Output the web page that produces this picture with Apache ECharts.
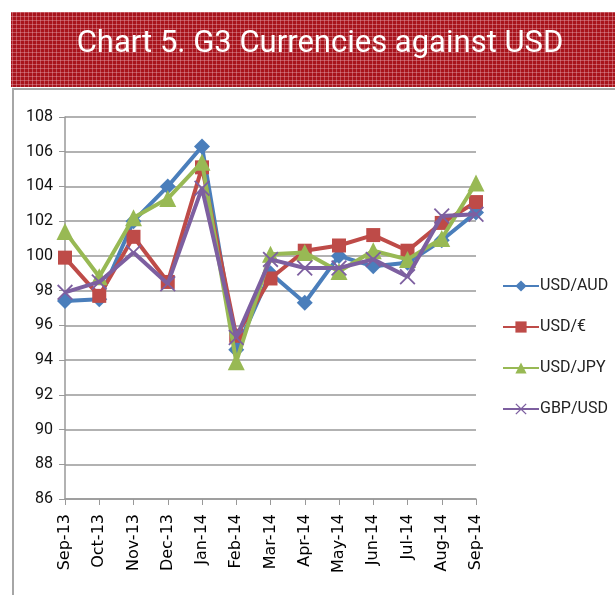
<!DOCTYPE html>
<html><head><meta charset="utf-8">
<script src="https://cdn.jsdelivr.net/npm/echarts@6/dist/echarts.min.js"></script>
<style>html,body{margin:0;padding:0;background:#fff}#c{width:615px;height:595px}</style>
</head><body><div id="c"></div>
<script>
const categories = ['Sep-13','Oct-13','Nov-13','Dec-13','Jan-14','Feb-14','Mar-14','Apr-14','May-14','Jun-14','Jul-14','Aug-14','Sep-14'];
const usdAud = [97.4, 97.5, 102.0, 104.0, 106.3, 94.6, 99.0, 97.3, 100.0, 99.4, 99.6, 100.9, 102.5];
const usdEur = [99.9, 97.7, 101.1, 98.5, 105.1, 95.4, 98.7, 100.3, 100.6, 101.2, 100.3, 101.9, 103.1];
const usdJpy = [101.4, 98.8, 102.2, 103.3, 105.4, 93.9, 100.1, 100.2, 99.1, 100.3, 99.8, 101.0, 104.2];
const gbpUsd = [97.9, 98.5, 100.2, 98.4, 103.9, 95.3, 99.8, 99.3, 99.3, 99.8, 98.8, 102.3, 102.4];
const seriesNames = ['USD/AUD', 'USD/€', 'USD/JPY', 'GBP/USD'];
const yTicks = [86, 88, 90, 92, 94, 96, 98, 100, 102, 104, 106, 108];

const pc = document.createElement('canvas');
pc.width = 4; pc.height = 4;
const g = pc.getContext('2d');
g.fillStyle = '#a8141c'; g.fillRect(0,0,4,4);
g.fillStyle = '#c2505a'; g.fillRect(0,0,4,1); g.fillRect(0,0,1,4);
g.fillStyle = '#d0787f'; g.fillRect(0,0,1,1);

const chart = echarts.init(document.getElementById('c'));
const xSym = 'path://M0,0.8L0.8,0L5,4.2L9.2,0L10,0.8L5.8,5L10,9.2L9.2,10L5,5.8L0.8,10L0,9.2L4.2,5Z';
const colors = ['#4a7ebb', '#be4b48', '#98b954', '#7d5fa0'];
const symbols = ['diamond', 'rect', 'triangle', xSym];
const sizes = [16, 14, 17, 16];
const datas = [usdAud, usdEur, usdJpy, gbpUsd];

chart.setOption({
  animation: false,
  color: colors,
  title: {
    text: 'Chart 5. G3 Currencies against USD',
    left: 315, top: 24, textAlign: 'center',
    textStyle: { color: '#fff', fontFamily: 'Roboto', fontSize: 31, fontWeight: 'normal' }
  },
  graphic: [
    { type: 'rect', z: -10, shape: { x: 11, y: 12, width: 604, height: 75 }, style: { fill: { image: pc, repeat: 'repeat' } } },
    { type: 'rect', z: -10, shape: { x: 13, y: 89, width: 620, height: 520 }, style: { fill: 'none', stroke: '#a6a6a6', lineWidth: 2 } }
  ],
  legend: {
    orient: 'vertical', left: 497, top: 273, itemGap: 25,
    itemWidth: 36, itemHeight: 14,
    textStyle: { fontFamily: 'Roboto', fontSize: 16, color: '#222', padding: [0,0,0,-4] },
    data: seriesNames
  },
  grid: { left: 65, right: 139, top: 117, bottom: 96, containLabel: false },
  xAxis: {
    type: 'category', data: categories, boundaryGap: false,
    axisLine: { lineStyle: { color: '#999', width: 1.5 } },
    axisTick: { alignWithLabel: true, length: 6, lineStyle: { color: '#999' } },
    axisLabel: { rotate: 90, margin: 15, interval: 0, color: '#000', fontFamily: 'DejaVu Sans', fontSize: 16 }
  },
  yAxis: {
    type: 'value', min: 86, max: 108, interval: 2,
    axisLine: { show: true, lineStyle: { color: '#999', width: 1.5 } },
    axisTick: { show: true, length: 6, lineStyle: { color: '#999' } },
    splitLine: { lineStyle: { color: '#999', width: 1.5 } },
    axisLabel: { margin: 12, color: '#111', fontFamily: 'Roboto', fontSize: 16 }
  },
  series: seriesNames.map((n, i) => ({
    name: n, type: 'line', data: datas[i],
    symbol: symbols[i], symbolSize: sizes[i], showAllSymbol: true,
    lineStyle: { width: 4, color: colors[i] },
    itemStyle: { color: colors[i] },
    z: 2 + i
  }))
});
</script></body></html>
